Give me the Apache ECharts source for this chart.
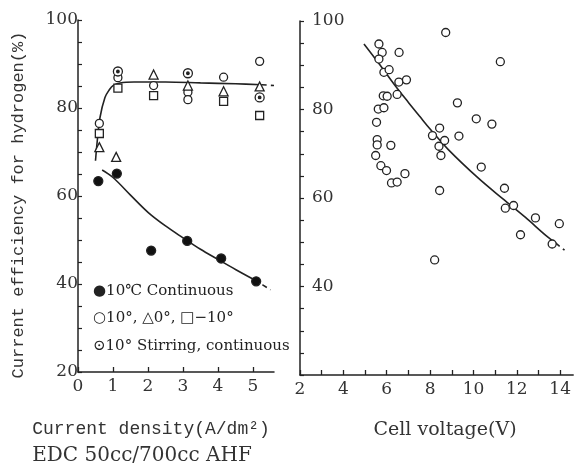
<!DOCTYPE html>
<html>
<head>
<meta charset="utf-8">
<script src="https://cdn.jsdelivr.net/npm/echarts@6/dist/echarts.min.js"></script>
<style type="text/css">
  html, body { margin: 0; padding: 0; background: #fff; }
  #main { width: 574px; height: 470px; }
</style>
</head>
<body>
<div id="main"></div>
<script type="text/javascript">
// left panel: current density (A/dm2) vs efficiency (%)
var contPoints = [[0.58, 63.4], [1.11, 65.1], [2.09, 47.6], [3.12, 49.8], [4.09, 45.8], [5.09, 40.6]];
var circle10 = [[0.61, 76.5], [1.14, 86.9], [2.16, 85.1], [3.14, 83.6], [3.14, 81.9], [4.16, 87.0], [5.19, 90.6]];
var tri0 = [[0.61, 71.1], [1.09, 68.9], [2.16, 87.6], [3.14, 85.1], [4.16, 83.8], [5.19, 84.9]];
var sqMinus10 = [[0.61, 74.2], [1.14, 84.5], [2.16, 82.8], [4.16, 81.5], [5.19, 78.3]];
var stirring = [[1.14, 88.3], [3.14, 87.9], [5.19, 82.4]];
var upperCurve = [[0.5, 68], [0.55, 72.5], [0.63, 77.9], [0.77, 82.4], [0.9, 84.2], [1.0, 85.1], [1.2, 85.7], [1.6, 85.9], [2.5, 85.9], [3.5, 85.7], [4.5, 85.5], [5.25, 85.3]];
var upperTail = [[5.25, 85.3], [5.6, 85.1]];
var lowerCurve = [[0.69, 65.9], [1.0, 64.2], [1.5, 60.2], [2.0, 56.3], [2.5, 53.2], [3.0, 50.5], [3.5, 47.9], [4.0, 45.6], [4.5, 43.3], [5.05, 40.9]];
var lowerTail = [[5.05, 40.9], [5.5, 38.7]];
var densityLabels = [0, 1, 2, 3, 4, 5];

// right panel: cell voltage (V) vs efficiency (%)
var voltPoints = [[5.64, 94.8], [5.79, 92.9], [5.64, 91.4], [6.57, 92.9], [5.87, 88.4], [6.11, 89.0], [6.56, 86.2], [6.91, 86.7],
  [5.84, 83.1], [6.02, 83.0], [6.48, 83.4], [5.61, 80.1], [5.87, 80.4], [5.53, 77.1], [5.56, 73.2], [5.56, 72.0],
  [6.19, 71.9], [5.49, 69.6], [5.73, 67.3], [5.99, 66.2], [6.84, 65.5], [6.22, 63.4], [6.48, 63.6], [8.72, 97.4],
  [11.24, 90.8], [9.26, 81.5], [10.13, 77.9], [10.85, 76.7], [8.44, 75.8], [8.11, 74.1], [9.33, 74.0], [8.67, 73.0],
  [8.41, 71.7], [8.5, 69.6], [10.36, 67.0], [8.44, 61.7], [11.43, 62.2], [11.47, 57.7], [11.85, 58.3], [12.86, 55.5],
  [13.96, 54.2], [12.17, 51.7], [13.63, 49.6], [8.21, 46.0]];
var voltCurve = [[4.95, 94.8], [5.7, 90.0], [6.42, 85.2], [7.0, 81.6], [7.53, 78.4], [8.0, 75.6], [8.83, 71.0], [10.2, 64.6], [11.36, 59.8], [12.4, 55.6], [13.35, 51.5], [13.8, 49.8]];
var voltTail = [[13.8, 49.8], [14.2, 48.2]];
var voltLabels = [2, 4, 6, 8, 10, 12, 14];

var effLeftLabels = [20, 40, 60, 80, 100];
var effRightLabels = [40, 60, 80, 100];

var ink = '#222';
var serif = 'DejaVu Serif';
var mono = 'Liberation Mono';

var myChart = echarts.init(document.getElementById('main'));

// only print the values listed in shown
function pick(shown) {
  return function (v) { return shown.indexOf(Math.round(v * 100) / 100) >= 0 ? String(v) : ''; };
}

function xAx(idx, min, max, labels) {
  return {
    type: 'value', gridIndex: idx, min: min, max: max, interval: 1,
    splitLine: { show: false },
    axisLine: { onZero: false, lineStyle: { color: ink, width: 1.5 } },
    axisTick: { show: true, inside: true, length: 5, lineStyle: { color: ink, width: 1.3 } },
    axisLabel: { formatter: pick(labels), showMaxLabel: false, margin: 6, color: '#333', fontFamily: serif, fontSize: 17 }
  };
}
function yAx(idx, labels, inside) {
  return {
    type: 'value', gridIndex: idx, min: 20, max: 100, interval: 5,
    splitLine: { show: false },
    axisLine: { onZero: false, lineStyle: { color: ink, width: 1.5 } },
    axisTick: { show: true, inside: true, length: 4, lineStyle: { color: ink, width: 1.2 } },
    axisLabel: { formatter: pick(labels), inside: inside, margin: inside ? 12 : 0, color: '#333', fontFamily: serif, fontSize: 17 }
  };
}
function marks(data, symbol, size, fill, xi, z) {
  return {
    type: 'scatter', xAxisIndex: xi, yAxisIndex: xi, data: data, symbol: symbol, symbolSize: size, z: z || 3,
    itemStyle: { color: fill, borderColor: ink, borderWidth: 1.3, opacity: 1 }
  };
}
function curve(data, xi, dashed) {
  return {
    type: 'line', xAxisIndex: xi, yAxisIndex: xi, data: data, smooth: 0.35, showSymbol: false, z: 2,
    lineStyle: { color: ink, width: 1.6, type: dashed ? [5, 4] : 'solid' }
  };
}

var option = {
  backgroundColor: '#fff',
  animation: false,
  grid: [
    { left: 78, top: 20, width: 196, height: 352 },
    { left: 300, top: 21, width: 274, height: 354 }
  ],
  xAxis: [xAx(0, 0, 5.6, densityLabels), xAx(1, 2, 14.6, voltLabels)],
  yAxis: [yAx(0, effLeftLabels, false), yAx(1, effRightLabels, true)],
  series: [
    curve(upperCurve, 0, false),
    curve(upperTail, 0, true),
    curve(lowerCurve, 0, false),
    curve(lowerTail, 0, true),
    marks(contPoints, 'circle', 9, '#111', 0),
    marks(circle10, 'circle', 8, '#fff', 0),
    marks(tri0, 'triangle', 9, '#fff', 0),
    marks(sqMinus10, 'rect', 8, '#fff', 0),
    marks(stirring, 'circle', 9, '#fff', 0, 4),
    marks(stirring, 'circle', 2.5, ink, 0, 5),
    curve(voltCurve, 1, false),
    curve(voltTail, 1, true),
    marks(voltPoints, 'circle', 8, '#fff', 1)
  ],
  graphic: [
    { type: 'text', x: 18, y: 205, rotation: Math.PI / 2,
      style: { text: 'Current efficiency for hydrogen(%)', fontFamily: mono, fontSize: 17, fill: '#333', align: 'center', verticalAlign: 'middle' } },
    { type: 'text', x: 151, y: 429,
      style: { text: 'Current density(A/dm²)', fontFamily: mono, fontSize: 18, fill: '#333', align: 'center', verticalAlign: 'middle' } },
    { type: 'text', x: 142, y: 456,
      style: { text: 'EDC 50cc/700cc AHF', fontFamily: serif, fontSize: 20, fill: '#333', align: 'center', verticalAlign: 'middle' } },
    { type: 'text', x: 445, y: 430,
      style: { text: 'Cell voltage(V)', fontFamily: serif, fontSize: 19, fill: '#333', align: 'center', verticalAlign: 'middle' } },
    { type: 'text', x: 93, y: 291,
      style: { text: '●10℃ Continuous', fontFamily: serif, fontSize: 15, fill: '#222', verticalAlign: 'middle' } },
    { type: 'text', x: 93, y: 318,
      style: { text: '○10°, △0°, □−10°', fontFamily: serif, fontSize: 15, fill: '#222', verticalAlign: 'middle' } },
    { type: 'text', x: 93, y: 346,
      style: { text: '⊙10° Stirring, continuous', fontFamily: serif, fontSize: 15, fill: '#222', verticalAlign: 'middle' } }
  ]
};

myChart.setOption(option);
</script>
</body>
</html>
